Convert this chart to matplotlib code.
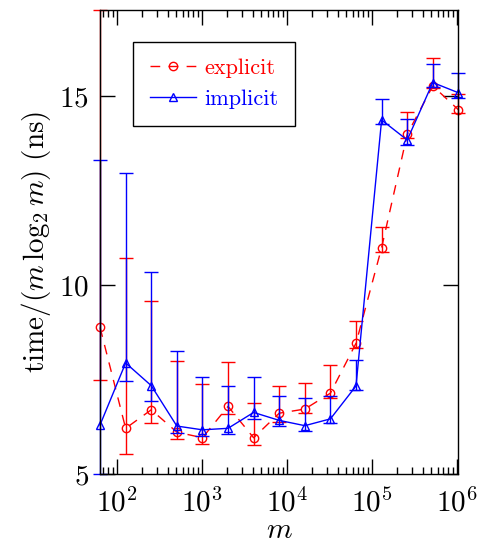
import numpy as np
import matplotlib
matplotlib.use("Agg")
import matplotlib.pyplot as plt
from matplotlib.ticker import LogLocator

# m = 2^6 ... 2^20
m = [2 ** k for k in range(6, 21)]

# explicit: valor central y extremos de la barra de error
explicito     = [8.88, 6.21, 6.70, 6.11, 5.96, 6.79, 5.96, 6.61, 6.72, 7.14, 8.46, 10.99, 13.99, 15.27, 14.64]
explicito_min = [7.50, 5.53, 6.34, 5.93, 5.80, 6.59, 5.78, 6.37, 6.61, 7.00, 8.34, 10.88, 13.90, 15.21, 14.55]
explicito_max = [17.28, 10.73, 9.59, 7.98, 7.39, 7.96, 6.87, 7.33, 7.42, 7.89, 9.05, 11.55, 14.58, 16.01, 15.05]

# implicit
implicito     = [6.30, 7.94, 7.34, 6.27, 6.17, 6.21, 6.63, 6.42, 6.28, 6.46, 7.33, 14.37, 13.84, 15.36, 15.09]
implicito_min = [5.00, 7.45, 6.93, 6.09, 6.00, 6.05, 6.45, 6.27, 6.14, 6.35, 7.22, 14.27, 13.72, 15.24, 14.95]
implicito_max = [13.31, 12.97, 10.35, 8.26, 7.57, 7.32, 7.58, 7.07, 7.01, 7.07, 8.01, 14.93, 14.40, 15.85, 15.60]

plt.rcParams["font.family"] = "serif"
plt.rcParams["font.serif"] = ["cmr10"]
plt.rcParams["mathtext.fontset"] = "cm"
plt.rcParams["axes.formatter.use_mathtext"] = True

ROJO = "#ff0000"
AZUL = "#0000ff"

fig = plt.figure(figsize=(4.81, 5.43), dpi=100)
ax = fig.add_axes([0.208, 0.127, 0.953 - 0.208, 0.9816 - 0.127])


def serie(valores, vmin, vmax, color, marcador, estilo, etiqueta):
    v = np.array(valores)
    err = [v - np.array(vmin), np.array(vmax) - v]
    eb = ax.errorbar(m, v, yerr=err, fmt="none", ecolor=color, elinewidth=1.0,
                     capsize=5, capthick=1.0)
    for a in eb.lines[1] + eb.lines[2]:
        a.set_clip_on(False)
    ln, = ax.plot(m, v, color=color, linestyle=estilo, linewidth=1.0,
                  marker=marcador, markersize=6, markerfacecolor="none",
                  markeredgewidth=1.0, label=etiqueta, clip_on=False)
    return ln


serie(explicito, explicito_min, explicito_max, ROJO, "o", (0, (7, 6)), "explicit")
serie(implicito, implicito_min, implicito_max, AZUL, "^", "-", "implicit")

ax.set_xscale("log")
ax.set_xlim(64, 2 ** 20)
ax.xaxis.set_major_locator(LogLocator(base=10, numticks=20))
ax.xaxis.set_minor_locator(LogLocator(base=10, subs=np.arange(2, 10), numticks=20))
ax.set_ylim(5, 17.28)
ax.set_yticks([5, 10, 15])

ax.tick_params(which="both", direction="in", top=True, right=True, labelsize=21, pad=8)
ax.tick_params(axis="x", pad=10)
ax.tick_params(which="major", length=10.5, width=1.0)
ax.tick_params(which="minor", length=5, width=1.0)
for s in ax.spines.values():
    s.set_linewidth(1.0)

ax.set_xlabel(r"$m$", fontsize=21, labelpad=0)
ax.set_ylabel(r"$\mathrm{time}/(m\,\log_2 m)\ (\mathrm{ns})$", fontsize=21, labelpad=4)

leg = ax.legend(loc="upper left", bbox_to_anchor=(0.092, 0.931), fontsize=16,
                numpoints=1, handlelength=2.1, labelcolor="linecolor",
                fancybox=False, edgecolor="black", framealpha=1,
                borderpad=0.75, labelspacing=0.5, handletextpad=0.35,
                borderaxespad=0)
leg.get_frame().set_linewidth(1.0)

fig.savefig("out.png", dpi=100)
